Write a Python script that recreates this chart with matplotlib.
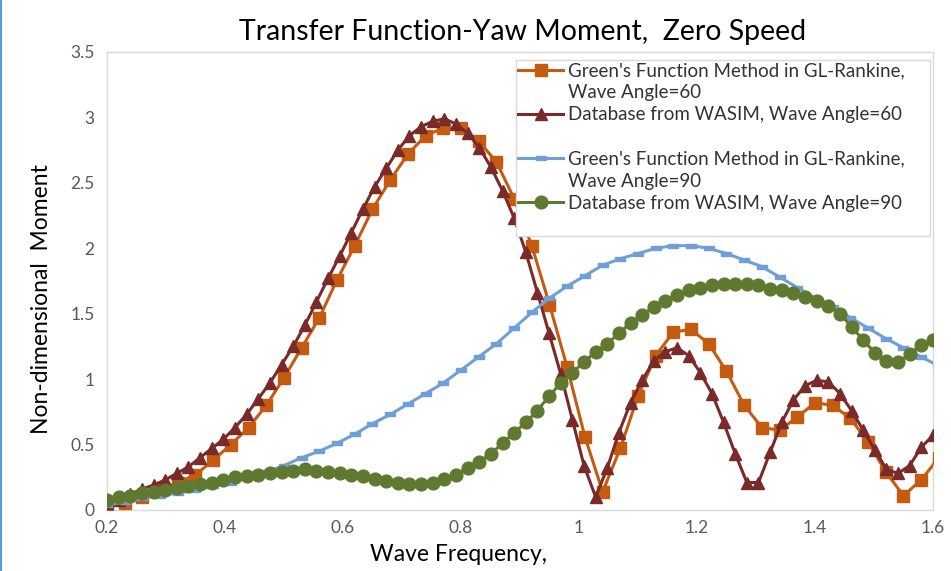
import numpy as np
import matplotlib
matplotlib.use("Agg")
import matplotlib.pyplot as plt
from matplotlib.lines import Line2D
from matplotlib.path import Path
from matplotlib.ticker import FuncFormatter

# ---- data -------------------------------------------------------------
# WASIM database, 72 frequencies from 0.2 to 1.6
freq_wasim = np.linspace(0.2, 1.6, 72)
wasim_60 = [
    0.05, 0.08, 0.12, 0.16, 0.19, 0.23, 0.28, 0.33, 0.40, 0.47,
    0.54, 0.63, 0.73, 0.85, 0.97, 1.11, 1.25, 1.41, 1.59, 1.77,
    1.94, 2.12, 2.30, 2.47, 2.61, 2.75, 2.86, 2.93, 2.97, 2.99,
    2.95, 2.88, 2.77, 2.62, 2.44, 2.23, 1.97, 1.66, 1.35, 1.04,
    0.69, 0.34, 0.10, 0.32, 0.59, 0.82, 0.99, 1.14, 1.21, 1.24,
    1.18, 1.05, 0.89, 0.67, 0.43, 0.21, 0.21, 0.44, 0.67, 0.84,
    0.95, 0.99, 0.98, 0.89, 0.76, 0.61, 0.46, 0.31, 0.28, 0.34,
    0.48, 0.57,
]
wasim_90 = [
    0.08, 0.10, 0.11, 0.13, 0.14, 0.15, 0.17, 0.18, 0.20, 0.21,
    0.23, 0.25, 0.26, 0.27, 0.28, 0.29, 0.30, 0.31, 0.30, 0.29,
    0.28, 0.27, 0.26, 0.24, 0.22, 0.21, 0.20, 0.20, 0.21, 0.24,
    0.27, 0.32, 0.37, 0.43, 0.51, 0.59, 0.67, 0.76, 0.87, 0.97,
    1.05, 1.13, 1.21, 1.27, 1.35, 1.43, 1.49, 1.55, 1.60, 1.64,
    1.68, 1.70, 1.72, 1.73, 1.73, 1.73, 1.72, 1.69, 1.68, 1.66,
    1.63, 1.60, 1.56, 1.50, 1.40, 1.30, 1.20, 1.14, 1.13, 1.19,
    1.26, 1.30,
]

# GL-Rankine Green's function results, step 0.03 starting at 0.2
freq_rankine = 0.2 + 0.03 * np.arange(48)
rankine_60 = [
    0.04, 0.05, 0.10, 0.15, 0.21, 0.27, 0.38, 0.50, 0.63, 0.80,
    1.01, 1.24, 1.47, 1.76, 2.02, 2.30, 2.52, 2.72, 2.86, 2.92,
    2.92, 2.82, 2.66, 2.38, 2.02, 1.57, 1.09, 0.56, 0.14, 0.47,
    0.87, 1.18, 1.36, 1.38, 1.27, 1.06, 0.80, 0.63, 0.61, 0.71,
    0.82, 0.80, 0.70, 0.52, 0.29, 0.11, 0.23, 0.40,
]
rankine_90 = [
    0.04, 0.06, 0.09, 0.11, 0.13, 0.15, 0.18, 0.21, 0.25, 0.29,
    0.34, 0.40, 0.45, 0.51, 0.58, 0.66, 0.73, 0.81, 0.89, 0.97,
    1.07, 1.17, 1.27, 1.39, 1.51, 1.62, 1.71, 1.79, 1.87, 1.92,
    1.96, 2.00, 2.02, 2.02, 2.00, 1.96, 1.91, 1.86, 1.78, 1.70,
    1.62, 1.55, 1.47, 1.39, 1.31, 1.24, 1.17, 1.10,
]

labels = [
    "Green's Function Method in GL-Rankine,\nWave Angle=60",
    "Database from WASIM, Wave Angle=60",
    "Green's Function Method in GL-Rankine,\nWave Angle=90",
    "Database from WASIM, Wave Angle=90",
]
x_ticks = [0.2, 0.4, 0.6, 0.8, 1.0, 1.2, 1.4, 1.6]
y_ticks = [0, 0.5, 1, 1.5, 2, 2.5, 3, 3.5]

# ---- style ------------------------------------------------------------
plt.rcParams["font.family"] = ["Lato", "DejaVu Sans"]
c_orange = "#C55A11"
c_red = "#7B2A2A"
c_blue = "#6F9FD6"
c_green = "#5F7A30"
grey_txt = "#595959"
frame = "#D9D9D9"

dash_marker = Path([[-1, -0.42], [1, -0.42], [1, 0.42], [-1, 0.42], [-1, -0.42]],
                   [Path.MOVETO, Path.LINETO, Path.LINETO, Path.LINETO, Path.CLOSEPOLY])

fig = plt.figure(figsize=(9.51, 5.71), dpi=100)
ax = fig.add_axes([107 / 951, 1 - 510 / 571, 826 / 951, 458 / 571])

lw = 2.2
h1, = ax.plot(freq_rankine, rankine_60, color=c_orange, lw=lw, marker="s",
              ms=8.0, mec=c_orange, mfc=c_orange, zorder=3)
h2, = ax.plot(freq_wasim, wasim_60, color=c_red, lw=lw, marker="^",
              ms=9.0, mec=c_red, mfc=c_red, zorder=4)
h3, = ax.plot(freq_rankine, rankine_90, color=c_blue, lw=lw, marker=dash_marker,
              ms=7.4, mec=c_blue, mfc=c_blue, zorder=5)
h4, = ax.plot(freq_wasim, wasim_90, color=c_green, lw=lw, marker="o",
              ms=9.2, mec=c_green, mfc=c_green, zorder=6)

ax.set_xlim(0.2, 1.6)
ax.set_ylim(0, 3.5)
ax.set_xticks(x_ticks)
ax.set_yticks(y_ticks)
fmt = FuncFormatter(lambda v, p: f"{v:g}")
ax.xaxis.set_major_formatter(fmt)
ax.yaxis.set_major_formatter(fmt)
ax.tick_params(length=0, labelsize=12.5, colors=grey_txt)
ax.tick_params(axis="y", pad=9)
ax.tick_params(axis="x", pad=7)
for s in ax.spines.values():
    s.set_color(frame)
    s.set_linewidth(1.0)

ax.set_xlabel("Wave Frequency,", fontsize=16.5, color="#000000")
ax.xaxis.set_label_coords((459 - 107) / 826, -0.075, transform=ax.transAxes)
ax.set_ylabel("Non-dimensional  Moment", fontsize=16.5, color="#000000")
ax.yaxis.set_label_coords(-0.066, (510 - 299) / 458, transform=ax.transAxes)

fig.text(523 / 951, 1 - 32 / 571, "Transfer Function-Yaw Moment,  Zero Speed",
         ha="center", va="center", fontsize=20.5, color="#000000")

# legend: first line of each entry sits beside its handle
blank = Line2D([], [], linestyle="none", marker=None)
l1a, l1b = labels[0].split("\n")
l3a, l3b = labels[2].split("\n")
handles = [h1, blank, h2, blank, h3, blank, h4, blank]
texts = [l1a, l1b, labels[1], " ", l3a, l3b, labels[3], " "]
leg = ax.legend(handles, texts, loc="upper left",
                bbox_to_anchor=((516 - 107) / 826, (510 - 60) / 458,
                                (930 - 516) / 826, 0.0),
                mode="expand", fontsize=13.5, numpoints=1,
                handlelength=2.4, handletextpad=0.28, labelspacing=0.27,
                borderpad=0.12, borderaxespad=0.0, frameon=True,
                fancybox=False, framealpha=1.0, edgecolor=frame)
leg.get_frame().set_linewidth(1.0)
for t in leg.get_texts():
    t.set_color("#333333")

# selection edge on the left side of the chart
fig.add_artist(Line2D([0.0015, 0.0015], [0, 1], transform=fig.transFigure,
                      color="#5B9BD5", lw=1.5))

fig.savefig("out.png", dpi=100, facecolor="white")
